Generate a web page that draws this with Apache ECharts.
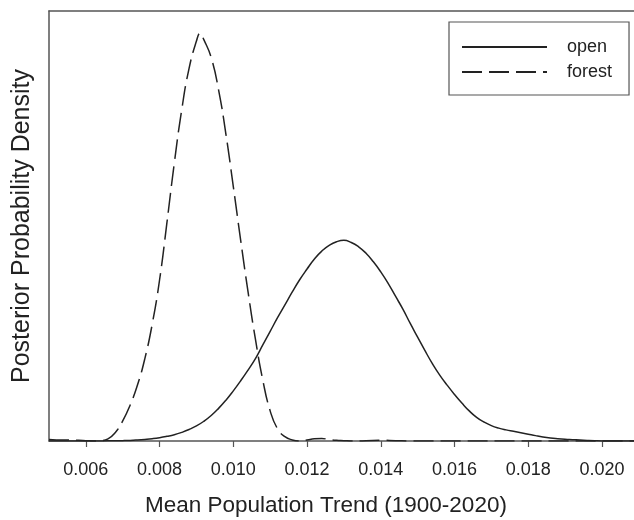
<!DOCTYPE html>
<html>
<head>
<meta charset="utf-8">
<script src="https://cdn.jsdelivr.net/npm/echarts@6/dist/echarts.min.js"></script>
<style>
  html, body { margin: 0; padding: 0; background: #fff; }
  #chart { width: 634px; height: 520px; }
</style>
</head>
<body>
<div id="chart"></div>
<script>
  // posterior density of the mean trend (steps of 0.0002)
  const openX = [0.0050, 0.0060, 0.0062, 0.0066, 0.0070, 0.0072, 0.0074, 0.0076, 0.0078,
    0.0080, 0.0082, 0.0084, 0.0086, 0.0088, 0.0090, 0.0092, 0.0094, 0.0096, 0.0098,
    0.0100, 0.0102, 0.0104, 0.0106, 0.0108, 0.0110, 0.0112, 0.0114, 0.0116, 0.0118,
    0.0120, 0.0122, 0.0124, 0.0126, 0.0128, 0.0130, 0.0132, 0.0134, 0.0136, 0.0138,
    0.0140, 0.0142, 0.0144, 0.0146, 0.0148, 0.0150, 0.0152, 0.0154, 0.0156, 0.0158,
    0.0160, 0.0162, 0.0164, 0.0166, 0.0168, 0.0170, 0.0172, 0.0174, 0.0176, 0.0178,
    0.0180, 0.0182, 0.0184, 0.0186, 0.0188, 0.0190, 0.0192, 0.0194, 0.0196, 0.0198,
    0.0200, 0.0209]
  const openY = [0, 0, 0, 0.2, 0.5, 0.8, 1.4, 2.2, 3.2,
    4.6, 6.5, 8.8, 12, 16, 21, 27.5, 35.5, 45.5, 57,
    70, 84, 99, 115, 134, 153, 172, 190, 208, 225,
    240, 254, 265, 273, 278, 280, 277, 271, 262, 250,
    236, 220, 202, 184, 164, 145, 126, 108, 92, 78,
    65, 53, 42, 33, 26.5, 21.5, 18, 15.5, 13.5, 11.5,
    9.5, 7.5, 5.7, 4.3, 3.3, 2.5, 1.9, 1.3, 0.8, 0.4,
    0.15, 0]

  const forestX = [0.0050, 0.0052, 0.0054, 0.0056, 0.0058, 0.0060, 0.0062, 0.0064, 0.0066, 0.0068,
    0.0070, 0.0072, 0.0074, 0.0076, 0.0078, 0.0080, 0.0082, 0.0084, 0.0086, 0.0088,
    0.0090, 0.0091, 0.0092, 0.0094, 0.0096, 0.0098, 0.0100, 0.0102, 0.0104, 0.0106, 0.0108,
    0.0110, 0.0112, 0.0114, 0.0116, 0.0118, 0.0120, 0.0122, 0.0124, 0.0126, 0.0128,
    0.0130, 0.0132, 0.0140, 0.0144, 0.0148, 0.0209]
  const forestY = [2, 1.5, 1.4, 1.2, 1, 0.5, 0, 0.5, 3, 12,
    28, 50, 78, 115, 163, 225, 305, 388, 462, 520,
    558, 569, 560, 535, 490, 428, 355, 280, 208, 142, 85,
    42, 17, 6, 1.5, 0, 1.5, 3, 3.5, 2, 1,
    0.5, 0, 1, 0.5, 0, 0]

  const tickValues = [0.006, 0.008, 0.010, 0.012, 0.014, 0.016, 0.018, 0.020]
  const tickLabels = ['0.006', '0.008', '0.010', '0.012', '0.014', '0.016', '0.018', '0.020']

  const pairs = (xs, ys) => xs.map((x, i) => [x, ys[i]])
  const font = 'Liberation Sans, Arial, sans-serif'
  const ink = '#222'
  const axisGray = '#555'

  const chart = echarts.init(document.getElementById('chart'))
  chart.setOption({
    animation: false,
    backgroundColor: '#fff',
    grid: { left: 49, right: 0, top: 11, bottom: 79 },
    legend: {
      orient: 'vertical',
      left: 449,
      top: 22,
      padding: [16, 17, 14, 12],
      borderColor: axisGray,
      borderWidth: 1.2,
      itemWidth: 85,
      itemHeight: 14,
      itemGap: 7,
      itemStyle: { opacity: 0 },
      textStyle: { fontFamily: font, fontSize: 18, lineHeight: 14, color: ink, padding: [0, 0, 0, 15] },
      data: ['open', 'forest']
    },
    xAxis: [
      {
        type: 'value',
        min: 0.005,
        max: 0.02087,
        splitLine: { show: false },
        axisLine: { onZero: false, lineStyle: { color: axisGray, width: 1.5 } },
        axisTick: { show: true, length: 6, customValues: tickValues, lineStyle: { color: axisGray, width: 1.2 } },
        axisLabel: {
          customValues: tickValues,
          formatter: v => tickLabels[tickValues.findIndex(t => Math.abs(t - v) < 1e-9)] || '',
          fontFamily: font, fontSize: 18, color: ink, margin: 20
        }
      },
      {
        type: 'value',
        position: 'top',
        min: 0.005,
        max: 0.02087,
        splitLine: { show: false },
        axisLine: { show: true, onZero: false, lineStyle: { color: axisGray, width: 1.5 } },
        axisTick: { show: false },
        axisLabel: { show: false }
      }
    ],
    yAxis: {
      type: 'value',
      min: 0,
      max: 600,
      name: 'Posterior Probability Density',
      nameLocation: 'middle',
      nameGap: 14,
      nameTextStyle: { fontFamily: font, fontSize: 25, color: ink },
      splitLine: { show: false },
      axisLine: { show: true, onZero: false, lineStyle: { color: axisGray, width: 1.5 } },
      axisTick: { show: false },
      axisLabel: { show: false }
    },
    graphic: [
      {
        type: 'text',
        left: 145,
        top: 494,
        style: { text: 'Mean Population Trend (1900-2020)', font: '22.5px ' + font, fill: ink }
      }
    ],
    series: [
      {
        name: 'open',
        type: 'line',
        data: pairs(openX, openY),
        smooth: 0.5,
        symbol: 'none',
        lineStyle: { color: ink, width: 1.5 },
        itemStyle: { color: ink }
      },
      {
        name: 'forest',
        type: 'line',
        data: pairs(forestX, forestY),
        smooth: 0.5,
        symbol: 'none',
        lineStyle: { color: ink, width: 1.5, type: [20, 7] },
        itemStyle: { color: ink }
      }
    ]
  })
</script>
</body>
</html>
